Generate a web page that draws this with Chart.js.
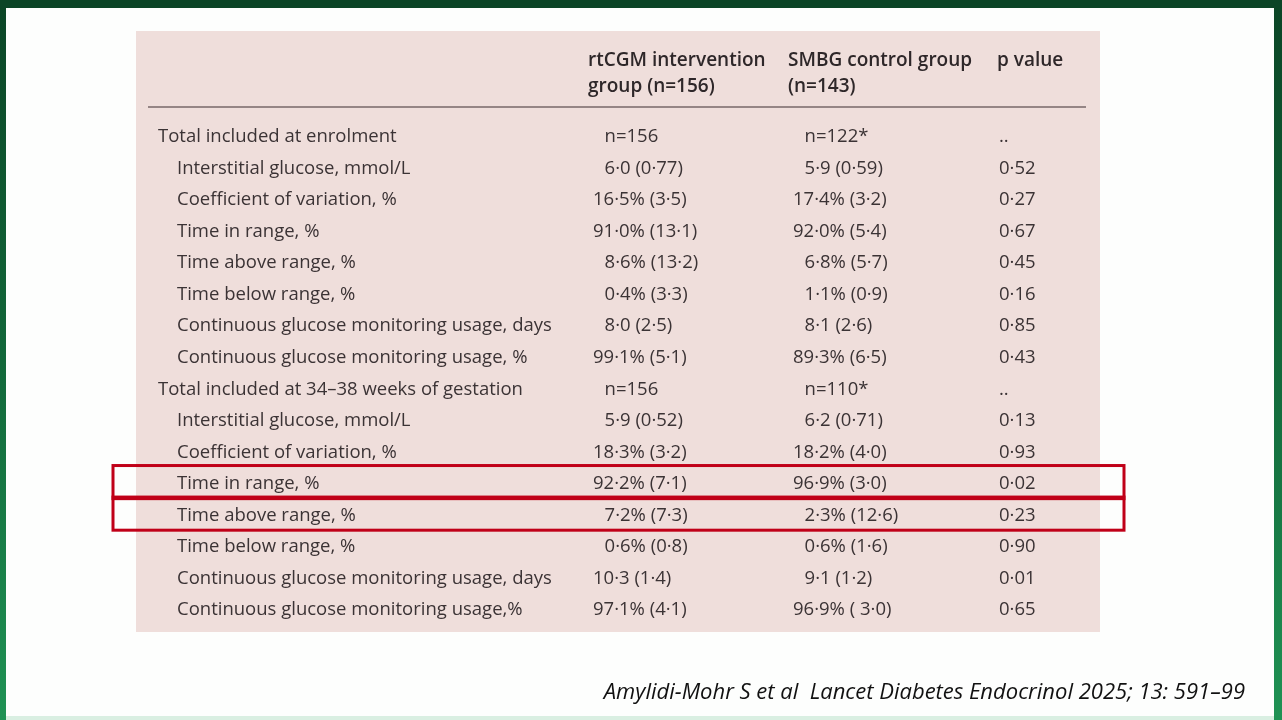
<!DOCTYPE html>
<html>
<head>
<meta charset="utf-8">
<script src="https://cdn.jsdelivr.net/npm/chart.js@4.4.1/dist/chart.umd.min.js"></script>
<style>
  html, body { margin: 0; padding: 0; background: #fff; }
  #wrap { width: 1282px; height: 720px; position: relative; }
</style>
</head>
<body>
<div id="wrap"><canvas id="tbl" width="1282" height="720"></canvas></div>
<script>
// table content
const rowLabels = [
  'Total included at enrolment',
  'Interstitial glucose, mmol/L',
  'Coefficient of variation, %',
  'Time in range, %',
  'Time above range, %',
  'Time below range, %',
  'Continuous glucose monitoring usage, days',
  'Continuous glucose monitoring usage, %',
  'Total included at 34\u201338 weeks of gestation',
  'Interstitial glucose, mmol/L',
  'Coefficient of variation, %',
  'Time in range, %',
  'Time above range, %',
  'Time below range, %',
  'Continuous glucose monitoring usage, days',
  'Continuous glucose monitoring usage,%'
];
const groupRows = [0, 8];

const rtcgmValues = [
  'n=156', '6\u00b70 (0\u00b777)', '16\u00b75% (3\u00b75)', '91\u00b70% (13\u00b71)',
  '8\u00b76% (13\u00b72)', '0\u00b74% (3\u00b73)', '8\u00b70 (2\u00b75)', '99\u00b71% (5\u00b71)',
  'n=156', '5\u00b79 (0\u00b752)', '18\u00b73% (3\u00b72)', '92\u00b72% (7\u00b71)',
  '7\u00b72% (7\u00b73)', '0\u00b76% (0\u00b78)', '10\u00b73 (1\u00b74)', '97\u00b71% (4\u00b71)'
];
const smbgValues = [
  'n=122*', '5\u00b79 (0\u00b759)', '17\u00b74% (3\u00b72)', '92\u00b70% (5\u00b74)',
  '6\u00b78% (5\u00b77)', '1\u00b71% (0\u00b79)', '8\u00b71 (2\u00b76)', '89\u00b73% (6\u00b75)',
  'n=110*', '6\u00b72 (0\u00b771)', '18\u00b72% (4\u00b70)', '96\u00b79% (3\u00b70)',
  '2\u00b73% (12\u00b76)', '0\u00b76% (1\u00b76)', '9\u00b71 (1\u00b72)', '96\u00b79% ( 3\u00b70)'
];
const pValues = [
  '..', '0\u00b752', '0\u00b727', '0\u00b767', '0\u00b745', '0\u00b716', '0\u00b785', '0\u00b743',
  '..', '0\u00b713', '0\u00b793', '0\u00b702', '0\u00b723', '0\u00b790', '0\u00b701', '0\u00b765'
];
const columnHeaders = [
  ['rtCGM intervention', 'group (n=156)'],
  ['SMBG control group', '(n=143)'],
  ['p value']
];
const highlightRows = [11, 12];
const citation = 'Amylidi-Mohr S et al  Lancet Diabetes Endocrinol 2025; 13: 591\u201399';

// layout (x in table units, measured from table left edge)
const colAnchor = [41, 457, 657, 863];
const headAnchor = [452, 652, 861];
const bodyFont = '18.5px "Open Sans", "Noto Sans", sans-serif';
const headFont = '600 19px "Open Sans", "Noto Sans", sans-serif';
const textColor = '#3b3335';

const columns = [rowLabels, rtcgmValues, smbgValues, pValues];

const tablePlugin = {
  id: 'tablePlugin',
  beforeDraw(chart) {
    const ctx = chart.ctx;
    const W = chart.width, H = chart.height;
    ctx.save();
    // slide frame
    const g = ctx.createLinearGradient(0, 0, 0, H);
    g.addColorStop(0, '#0b4526');
    g.addColorStop(0.5, '#12683a');
    g.addColorStop(1, '#1f9254');
    ctx.fillStyle = g;
    ctx.fillRect(0, 0, W, H);
    ctx.fillStyle = '#0b4526';
    ctx.fillRect(0, 0, W, 8);
    ctx.fillStyle = '#fdfefd';
    ctx.fillRect(6, 8, W - 14, H - 11);
    ctx.fillStyle = '#d9efe2';
    ctx.fillRect(6, H - 4, W - 14, 4);

    // table panel
    const x = chart.scales.x;
    const left = x.getPixelForValue(0), right = x.getPixelForValue(964);
    ctx.fillStyle = '#efdedb';
    ctx.fillRect(left, 31, right - left, 601);

    // header
    ctx.fillStyle = '#2e2729';
    ctx.font = headFont;
    ctx.textAlign = 'left';
    ctx.textBaseline = 'middle';
    columnHeaders.forEach((lines, k) => {
      lines.forEach((t, j) => ctx.fillText(t, x.getPixelForValue(headAnchor[k]), 61 + j * 26));
    });
    ctx.strokeStyle = '#958585';
    ctx.lineWidth = 2;
    ctx.beginPath();
    ctx.moveTo(x.getPixelForValue(12), 107);
    ctx.lineTo(x.getPixelForValue(950), 107);
    ctx.stroke();
    ctx.restore();
  },
  afterDatasetsDraw(chart) {
    const ctx = chart.ctx;
    const x = chart.scales.x, y = chart.scales.y;
    ctx.save();
    ctx.font = bodyFont;
    ctx.fillStyle = textColor;
    ctx.textAlign = 'left';
    ctx.textBaseline = 'middle';
    const digit = ctx.measureText('0').width;
    chart.data.datasets.forEach((ds, k) => {
      const meta = chart.getDatasetMeta(k);
      meta.data.forEach((pt, i) => {
        const txt = columns[k][i];
        let px = pt.x;
        if (k === 0 && groupRows.includes(i)) px = x.getPixelForValue(colAnchor[0] - 19);
        if ((k === 1 || k === 2) && !/^\d\d/.test(txt)) px += digit + 1;
        ctx.fillText(txt, px, pt.y + 1);
      });
    });

    // highlight boxes
    ctx.strokeStyle = '#c00018';
    ctx.lineWidth = 3;
    const bx0 = x.getPixelForValue(-23), bx1 = x.getPixelForValue(988);
    highlightRows.forEach(r => {
      const t = y.getPixelForValue(r - 0.55), b = y.getPixelForValue(r + 0.5);
      ctx.strokeRect(bx0, t, bx1 - bx0, b - t);
    });

    // citation
    ctx.font = 'italic 22px "Open Sans", "Noto Sans", sans-serif';
    ctx.fillStyle = '#111';
    ctx.textAlign = 'right';
    ctx.fillText(citation, 1245, 693);
    ctx.restore();
  }
};

new Chart(document.getElementById('tbl'), {
  type: 'scatter',
  data: {
    datasets: columns.map((col, k) => ({
      label: k === 0 ? 'Row' : columnHeaders[k - 1].join(' '),
      data: col.map((v, i) => ({ x: colAnchor[k], y: i })),
      pointRadius: 0,
      pointHoverRadius: 0
    }))
  },
  options: {
    responsive: false,
    animation: false,
    events: [],
    layout: { padding: { left: 136, right: 182, top: 120.2, bottom: 95.2 } },
    scales: {
      x: { type: 'linear', min: 0, max: 964, display: false },
      y: { type: 'linear', min: -0.5, max: 15.5, reverse: true, display: false }
    },
    plugins: { legend: { display: false }, tooltip: { enabled: false } }
  },
  plugins: [tablePlugin]
});
</script>
</body>
</html>
